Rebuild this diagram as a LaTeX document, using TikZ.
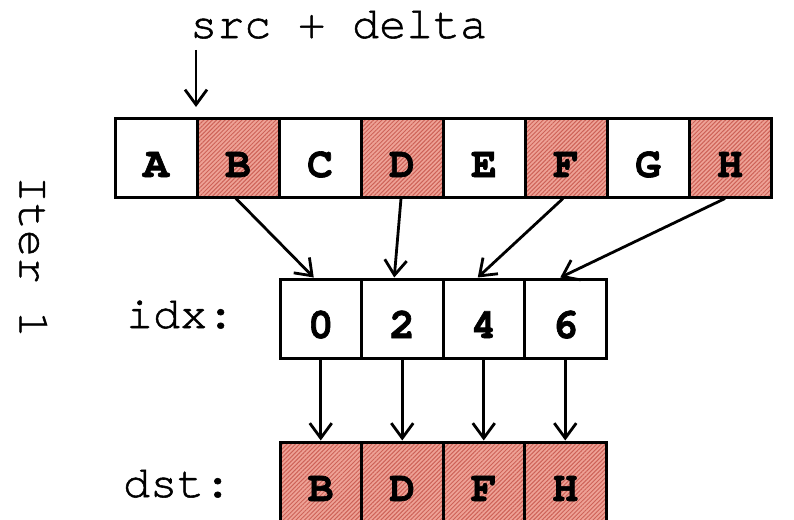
\documentclass[tikz,border=0pt]{standalone}
\usepackage{fontspec}
\newfontfamily\lblfont{texgyrecursor-regular.otf}[FakeBold=1.2]
\newfontfamily\cellfont{texgyrecursor-bold.otf}[FakeBold=1.5]
\usetikzlibrary{arrows.meta,patterns.meta}
\definecolor{hatchfill}{RGB}{238,162,150}
\definecolor{hatchline}{RGB}{205,98,88}
\tikzset{
  cell/.style={draw=black, line width=3pt, minimum width=82pt, minimum height=79pt,
    inner sep=0pt, text height=39pt, text depth=0pt,
    font=\cellfont\fontsize{43}{50}\selectfont},
  hot/.style={cell, preaction={fill=hatchfill},
    pattern={Lines[angle=45,distance=3pt,line width=1pt]}, pattern color=hatchline},
  lbl/.style={inner sep=0pt, font=\lblfont\fontsize{45}{52}\selectfont},
  conn/.style={line width=2.8pt, -{Straight Barb[length=15pt,width=22pt,line width=2.8pt]}}
}
\begin{document}
\begin{tikzpicture}[x=1pt,y=-1pt]
\useasboundingbox (0,0) rectangle (794,519);
% top row
\node[cell] (a) at (156,157.5) {A};
\node[hot]  (b) at (238,157.5) {B};
\node[cell] (c) at (320,157.5) {C};
\node[hot]  (d) at (402,157.5) {D};
\node[cell] (e) at (484,157.5) {E};
\node[hot]  (f) at (566,157.5) {F};
\node[cell] (g) at (648,157.5) {G};
\node[hot]  (h) at (730,157.5) {H};
% idx row
\node[cell, minimum width=81.5pt] (i0) at (320.75,318.5) {0};
\node[cell, minimum width=81.5pt] (i1) at (402.25,318.5) {2};
\node[cell, minimum width=81.5pt] (i2) at (483.75,318.5) {4};
\node[cell, minimum width=81.5pt] (i3) at (565.25,318.5) {6};
% dst row
\node[hot, minimum width=81.5pt] (d0) at (320.75,481.5) {B};
\node[hot, minimum width=81.5pt] (d1) at (402.25,481.5) {D};
\node[hot, minimum width=81.5pt] (d2) at (483.75,481.5) {F};
\node[hot, minimum width=81.5pt] (d3) at (565.25,481.5) {H};
% labels
\node[lbl, anchor=base west] (src) at (190,38) {src + delta};
\node[lbl, anchor=base west] (idx) at (126,328) {idx:};
\node[lbl, anchor=base west] (dst) at (123,497) {dst:};
\node[lbl, rotate=-90] (iter) at (33,257) {Iter 1};
% pointer arrow
\coordinate (ptrtop) at (196,50);
\coordinate (ptrtip) at (196,107);
\draw[conn] (ptrtop) -- (ptrtip);
% gather arrows
\draw[conn] ([xshift=-3pt]b.south) -- ([xshift=-7pt]i0.north);
\draw[conn] ([xshift=-1pt]d.south) -- ([xshift=-8pt]i1.north);
\draw[conn] ([xshift=-3pt]f.south) -- ([xshift=-6pt]i2.north);
\draw[conn] ([xshift=-5pt]h.south) -- ([xshift=-5pt]i3.north);
% store arrows
\draw[conn] (i0.south) -- (d0.north);
\draw[conn] (i1.south) -- (d1.north);
\draw[conn] (i2.south) -- (d2.north);
\draw[conn] (i3.south) -- (d3.north);
\end{tikzpicture}
\end{document}
